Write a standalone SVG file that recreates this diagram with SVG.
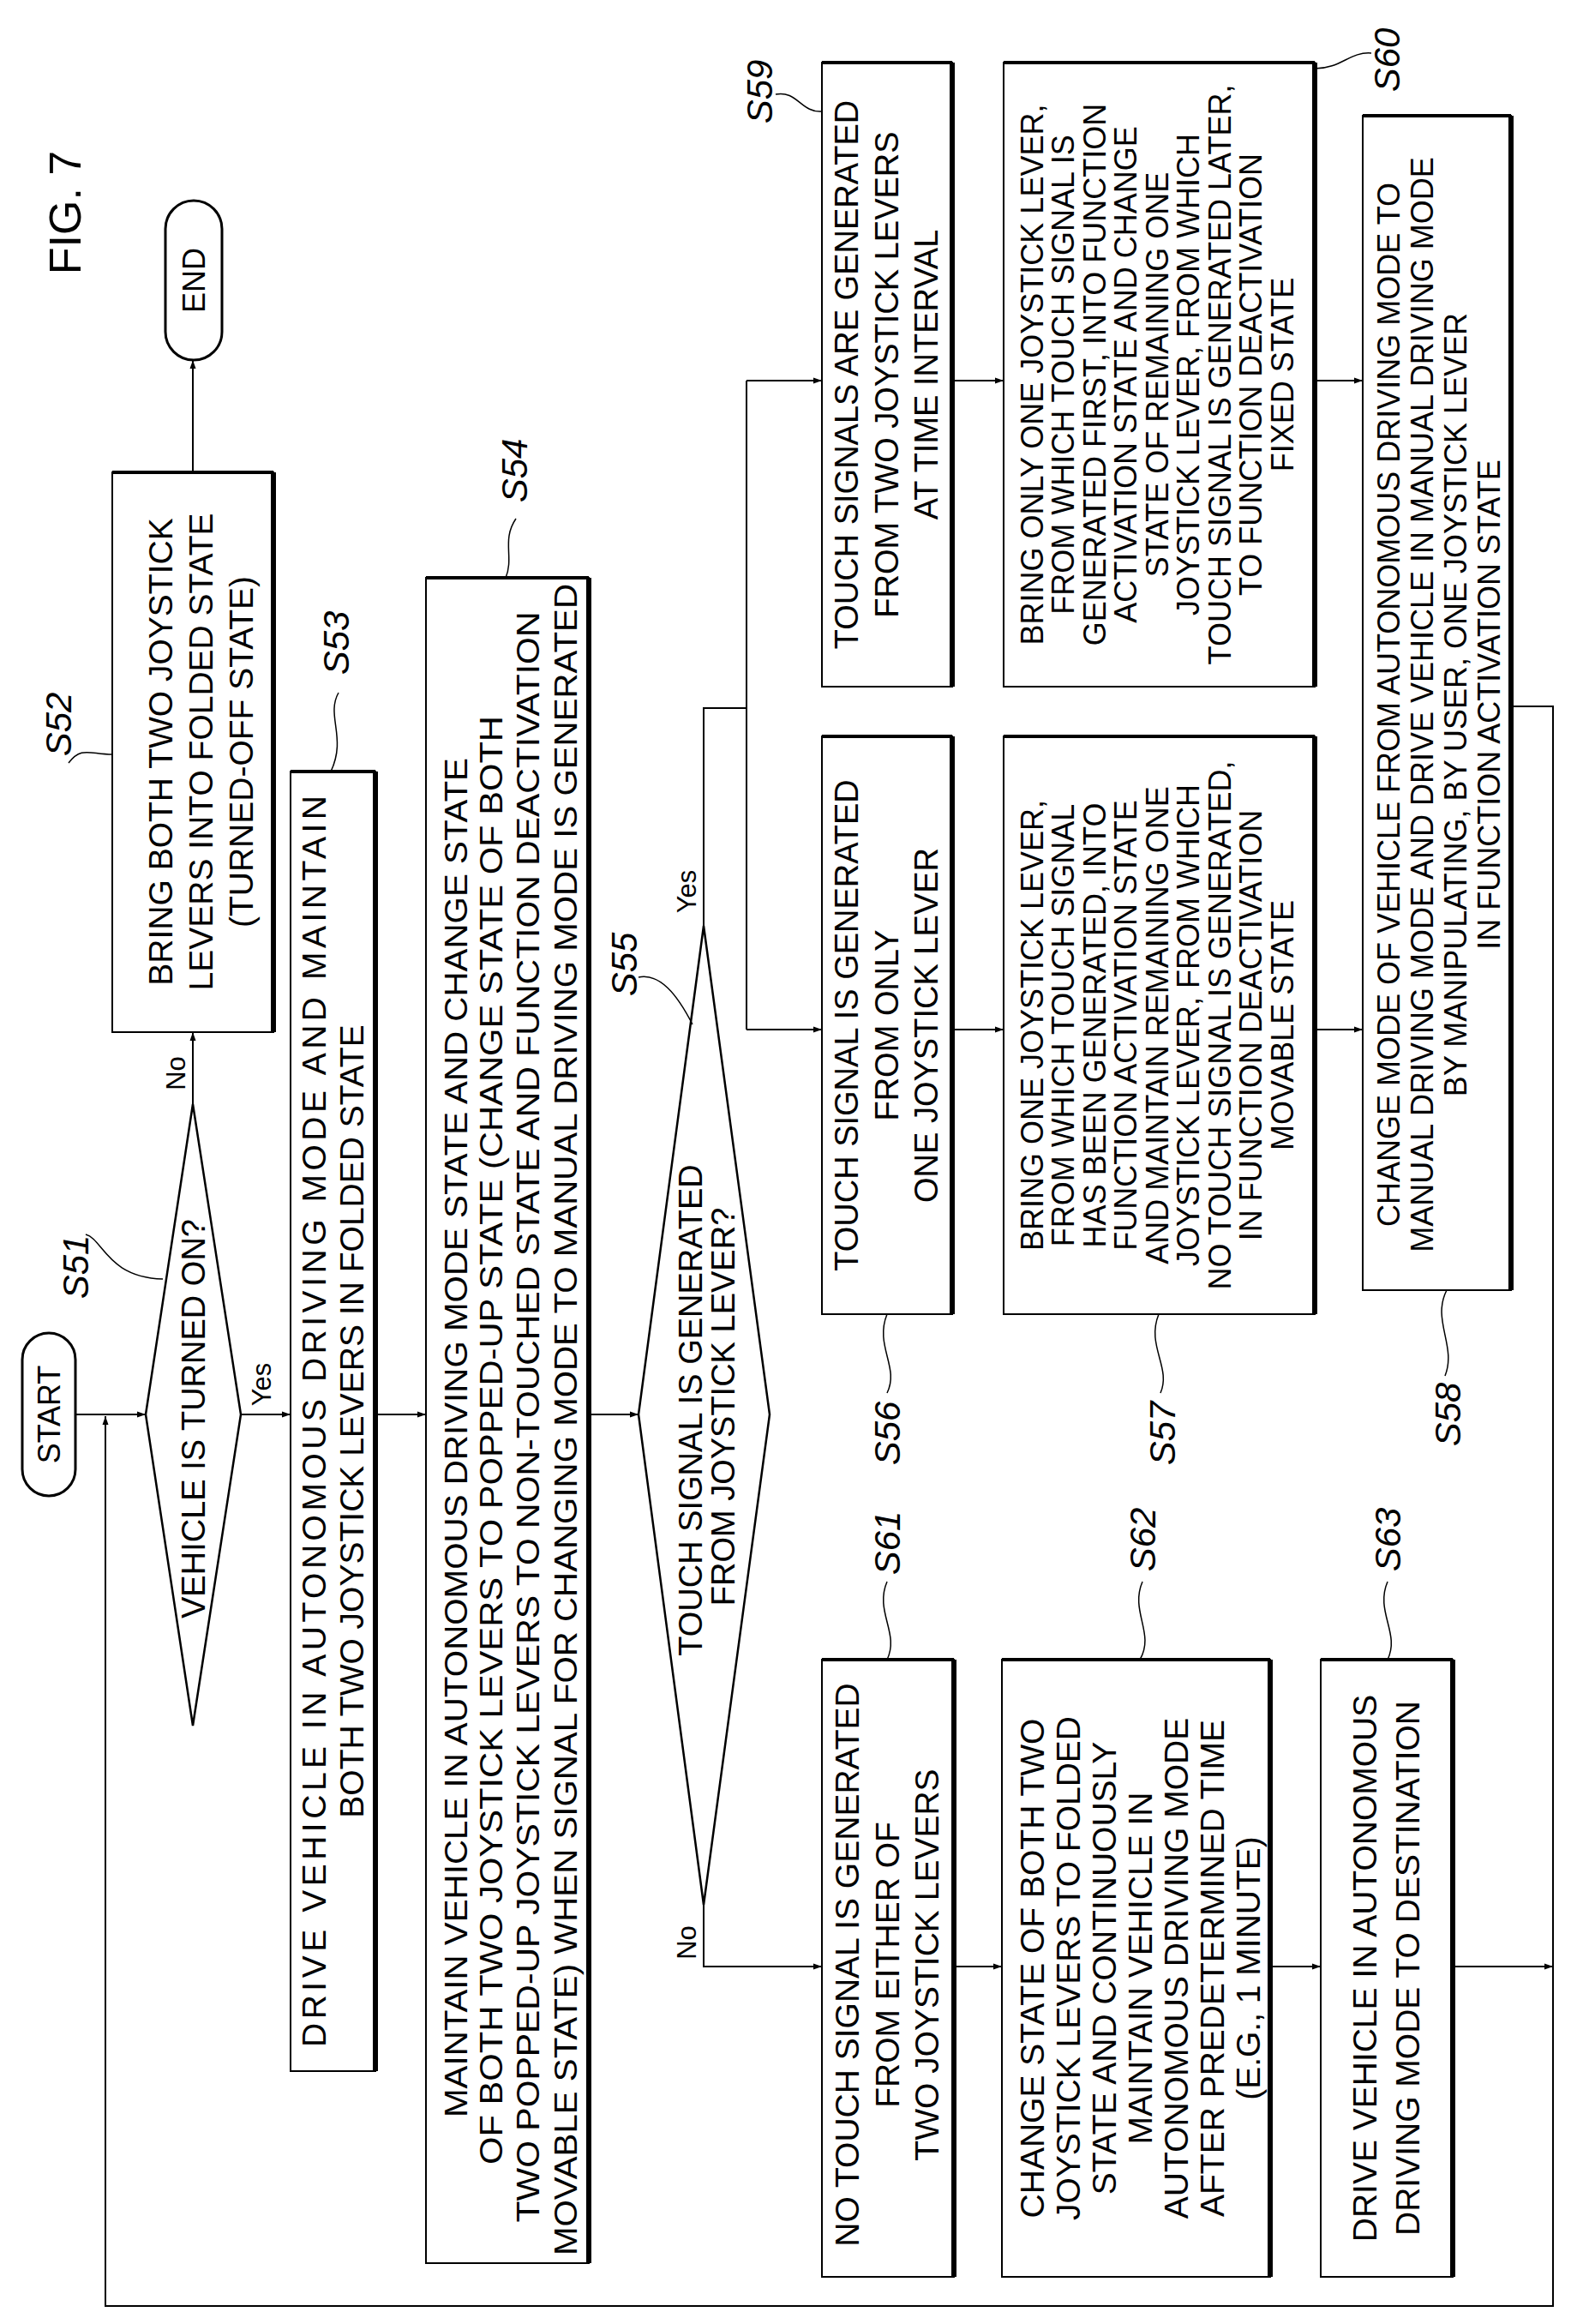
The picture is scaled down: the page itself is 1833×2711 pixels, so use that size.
<svg xmlns="http://www.w3.org/2000/svg" width="1833" height="2711" viewBox="0 0 1833 2711">
<style>
text{font-family:"Liberation Sans",Arial,sans-serif;font-size:36px;fill:#000;text-anchor:middle;dominant-baseline:central}
.lbl{font-style:italic;font-size:42px}
.f41{font-size:39px}
.f42{font-size:39px}
.f40{font-size:38px}
.f58{font-size:36px}
.box{fill:#fff;stroke:#000;stroke-width:2}
.edge{fill:none;stroke:#000;stroke-width:6}
.top{fill:none;stroke:#000;stroke-width:4}
.ln{fill:none;stroke:#000;stroke-width:2}
.ld{fill:none;stroke:#000;stroke-width:1.5}
</style>
<defs>
<marker id="ah" viewBox="0 0 10 10" refX="10" refY="5" markerWidth="10" markerHeight="10" markerUnits="userSpaceOnUse" orient="auto">
<path d="M0,1.5 L10,5 L0,8.5 Z" fill="#000"/>
</marker>
</defs>
<rect width="1833" height="2711" fill="#fff"/>
<text transform="translate(76,248) rotate(-90)" style="font-size:52px">FIG. 7</text>

<g id="connectors">
<path class="ln" d="M89 1650 H170" marker-end="url(#ah)"/>
<path class="ln" d="M1763 824 H1812 V2690 H123 V1652" marker-end="url(#ah)"/>
<path class="ln" d="M225 1288 V1204" marker-end="url(#ah)"/>
<path class="ln" d="M225 551 V420" marker-end="url(#ah)"/>
<path class="ln" d="M281 1650 H339" marker-end="url(#ah)"/>
<path class="ln" d="M438 1650 H497" marker-end="url(#ah)"/>
<path class="ln" d="M687 1650 H745" marker-end="url(#ah)"/>
<path class="ln" d="M821 1080 V826 H871"/>
<path class="ln" d="M871 444 V1201"/>
<path class="ln" d="M871 444 H959" marker-end="url(#ah)"/>
<path class="ln" d="M871 1201 H959" marker-end="url(#ah)"/>
<path class="ln" d="M1111 444 H1171" marker-end="url(#ah)"/>
<path class="ln" d="M1534 444 H1590" marker-end="url(#ah)"/>
<path class="ln" d="M1111 1201 H1171" marker-end="url(#ah)"/>
<path class="ln" d="M1534 1201 H1590" marker-end="url(#ah)"/>
<path class="ln" d="M821 2222 V2294 H959" marker-end="url(#ah)"/>
<path class="ln" d="M1113 2294 H1169" marker-end="url(#ah)"/>
<path class="ln" d="M1482 2294 H1541" marker-end="url(#ah)"/>
<path class="ln" d="M1695 2294 H1812" marker-end="url(#ah)"/>
<text transform="translate(205,1252) rotate(-90)" style="font-size:31px">No</text>
<text transform="translate(305,1615) rotate(-90)" style="font-size:31px">Yes</text>
<text transform="translate(801,1040) rotate(-90)" style="font-size:31px">Yes</text>
<text transform="translate(801,2266) rotate(-90)" style="font-size:31px">No</text>
</g>

<g id="start">
<rect x="26" y="1555" width="62" height="190" rx="31" class="box" style="stroke-width:3"/>
<text transform="translate(57,1650) rotate(-90)">START</text>
</g>
<g id="end">
<rect x="193" y="234" width="66" height="186" rx="33" class="box" style="stroke-width:3"/>
<text transform="translate(226,327) rotate(-90)">END</text>
</g>

<g id="S51">
<polygon points="225,1288 281,1650 225,2013 170,1650" class="box" style="stroke-width:2.5"/>
<text class="f40" transform="translate(226,1655) rotate(-90)">VEHICLE IS TURNED ON?</text>
<text class="lbl" transform="translate(88,1478) rotate(-90)">S51</text>
<path class="ld" d="M100 1440 C120 1445,125 1490,190 1492"/>
</g>

<g id="S52">
<rect x="131" y="551" width="188" height="653" class="box"/>
<path class="top" d="M131 551 H319"/><path class="edge" d="M319 551 V1204"/>
<text class="f41" transform="translate(187,877) rotate(-90)">BRING BOTH TWO JOYSTICK</text>
<text class="f41" transform="translate(234,877) rotate(-90)">LEVERS INTO FOLDED STATE</text>
<text class="f41" transform="translate(281,877) rotate(-90)">(TURNED-OFF STATE)</text>
<text class="lbl" transform="translate(68,845) rotate(-90)">S52</text>
<path class="ld" d="M80 890 C95 870,105 880,131 880"/>
</g>

<g id="S53">
<rect x="339" y="900" width="99" height="1516" class="box"/>
<path class="top" d="M339 900 H438"/><path class="edge" d="M438 900 V2416"/>
<text class="f41" transform="translate(366,1658) rotate(-90)" textLength="1460">DRIVE VEHICLE IN AUTONOMOUS DRIVING MODE AND MAINTAIN</text>
<text class="f41" transform="translate(410,1658) rotate(-90)">BOTH TWO JOYSTICK LEVERS IN FOLDED STATE</text>
<text class="lbl" transform="translate(392,750) rotate(-90)">S53</text>
<path class="ld" d="M395 808 C380 835,405 860,386 900"/>
</g>

<g id="S54">
<rect x="497" y="674" width="190" height="1966" class="box"/>
<path class="top" d="M497 674 H687"/><path class="edge" d="M687 674 V2640"/>
<text transform="translate(532,1677) rotate(-90)" textLength="1586" lengthAdjust="spacingAndGlyphs">MAINTAIN VEHICLE IN AUTONOMOUS DRIVING MODE STATE AND CHANGE STATE</text>
<text transform="translate(573,1680) rotate(-90)" textLength="1690" lengthAdjust="spacingAndGlyphs">OF BOTH TWO JOYSTICK LEVERS TO POPPED-UP STATE (CHANGE STATE OF BOTH</text>
<text transform="translate(616,1653) rotate(-90)" textLength="1879" lengthAdjust="spacingAndGlyphs">TWO POPPED-UP JOYSTICK LEVERS TO NON-TOUCHED STATE AND FUNCTION DEACTIVATION</text>
<text transform="translate(660,1656) rotate(-90)" textLength="1950" lengthAdjust="spacingAndGlyphs">MOVABLE STATE) WHEN SIGNAL FOR CHANGING MODE TO MANUAL DRIVING MODE IS GENERATED</text>
<text class="lbl" transform="translate(600,549) rotate(-90)">S54</text>
<path class="ld" d="M602 605 C585 630,600 650,590 674"/>
</g>

<g id="S55">
<polygon points="821,1080 898,1650 821,2222 745,1650" class="box" style="stroke-width:2.5"/>
<text class="f40" transform="translate(806,1645) rotate(-90)">TOUCH SIGNAL IS GENERATED</text>
<text class="f40" transform="translate(844,1641) rotate(-90)">FROM JOYSTICK LEVER?</text>
<text class="lbl" transform="translate(728,1125) rotate(-90)">S55</text>
<path class="ld" d="M745 1140 C770 1135,790 1160,808 1195"/>
</g>

<g id="S56">
<rect x="959" y="859" width="152" height="674" class="box"/>
<path class="top" d="M959 859 H1111"/><path class="edge" d="M1111 859 V1533"/>
<text class="f40" transform="translate(988,1196) rotate(-90)">TOUCH SIGNAL IS GENERATED</text>
<text class="f40" transform="translate(1035,1196) rotate(-90)">FROM ONLY</text>
<text class="f40" transform="translate(1081,1196) rotate(-90)">ONE JOYSTICK LEVER</text>
<text class="lbl" transform="translate(1035,1672) rotate(-90)">S56</text>
<path class="ld" d="M1035 1533 C1020 1570,1050 1595,1035 1625"/>
</g>

<g id="S57">
<rect x="1171" y="859" width="363" height="674" class="box"/>
<path class="top" d="M1171 859 H1534"/><path class="edge" d="M1534 859 V1533"/>
<text transform="translate(1204,1196) rotate(-90)">BRING ONE JOYSTICK LEVER,</text>
<text transform="translate(1240,1196) rotate(-90)">FROM WHICH TOUCH SIGNAL</text>
<text transform="translate(1277,1196) rotate(-90)">HAS BEEN GENERATED, INTO</text>
<text transform="translate(1313,1196) rotate(-90)">FUNCTION ACTIVATION STATE</text>
<text transform="translate(1350,1196) rotate(-90)">AND MAINTAIN REMAINING ONE</text>
<text transform="translate(1386,1196) rotate(-90)">JOYSTICK LEVER, FROM WHICH</text>
<text transform="translate(1423,1196) rotate(-90)">NO TOUCH SIGNAL IS GENERATED,</text>
<text transform="translate(1459,1196) rotate(-90)">IN FUNCTION DEACTIVATION</text>
<text transform="translate(1496,1196) rotate(-90)">MOVABLE STATE</text>
<text class="lbl" transform="translate(1356,1672) rotate(-90)">S57</text>
<path class="ld" d="M1352 1533 C1337 1570,1367 1595,1354 1625"/>
</g>

<g id="S58">
<rect x="1590" y="135" width="173" height="1370" class="box"/>
<path class="top" d="M1590 135 H1763"/><path class="edge" d="M1763 135 V1505"/>
<text class="f58" transform="translate(1620,822) rotate(-90)">CHANGE MODE OF VEHICLE FROM AUTONOMOUS DRIVING MODE TO</text>
<text class="f58" transform="translate(1659,822) rotate(-90)">MANUAL DRIVING MODE AND DRIVE VEHICLE IN MANUAL DRIVING MODE</text>
<text class="f58" transform="translate(1698,822) rotate(-90)">BY MANIPULATING, BY USER, ONE JOYSTICK LEVER</text>
<text class="f58" transform="translate(1737,822) rotate(-90)">IN FUNCTION ACTIVATION STATE</text>
<text class="lbl" transform="translate(1689,1650) rotate(-90)">S58</text>
<path class="ld" d="M1688 1505 C1670 1540,1700 1570,1686 1605"/>
</g>

<g id="S59">
<rect x="959" y="73" width="152" height="728" class="box"/>
<path class="top" d="M959 73 H1111"/><path class="edge" d="M1111 73 V801"/>
<text class="f40" transform="translate(988,437) rotate(-90)">TOUCH SIGNALS ARE GENERATED</text>
<text class="f40" transform="translate(1035,437) rotate(-90)">FROM TWO JOYSTICK LEVERS</text>
<text class="f40" transform="translate(1081,437) rotate(-90)">AT TIME INTERVAL</text>
<text class="lbl" transform="translate(886,107) rotate(-90)">S59</text>
<path class="ld" d="M905 110 C930 105,935 132,959 130"/>
</g>

<g id="S60">
<rect x="1171" y="73" width="363" height="728" class="box"/>
<path class="top" d="M1171 73 H1534"/><path class="edge" d="M1534 73 V801"/>
<text transform="translate(1204,437) rotate(-90)">BRING ONLY ONE JOYSTICK LEVER,</text>
<text transform="translate(1240,437) rotate(-90)">FROM WHICH TOUCH SIGNAL IS</text>
<text transform="translate(1277,437) rotate(-90)">GENERATED FIRST, INTO FUNCTION</text>
<text transform="translate(1313,437) rotate(-90)">ACTIVATION STATE AND CHANGE</text>
<text transform="translate(1350,437) rotate(-90)">STATE OF REMAINING ONE</text>
<text transform="translate(1386,437) rotate(-90)">JOYSTICK LEVER, FROM WHICH</text>
<text transform="translate(1423,437) rotate(-90)">TOUCH SIGNAL IS GENERATED LATER,</text>
<text transform="translate(1459,437) rotate(-90)">TO FUNCTION DEACTIVATION</text>
<text transform="translate(1496,437) rotate(-90)">FIXED STATE</text>
<text class="lbl" transform="translate(1618,70) rotate(-90)">S60</text>
<path class="ld" d="M1600 62 C1575 60,1565 80,1534 80"/>
</g>

<g id="S61">
<rect x="959" y="1936" width="154" height="720" class="box"/>
<path class="top" d="M959 1936 H1113"/><path class="edge" d="M1113 1936 V2656"/>
<text class="f42" transform="translate(988,2292) rotate(-90)">NO TOUCH SIGNAL IS GENERATED</text>
<text class="f42" transform="translate(1035,2292) rotate(-90)">FROM EITHER OF</text>
<text class="f42" transform="translate(1081,2292) rotate(-90)">TWO JOYSTICK LEVERS</text>
<text class="lbl" transform="translate(1035,1800) rotate(-90)">S61</text>
<path class="ld" d="M1035 1845 C1020 1880,1050 1905,1035 1936"/>
</g>

<g id="S62">
<rect x="1169" y="1936" width="313" height="720" class="box"/>
<path class="top" d="M1169 1936 H1482"/><path class="edge" d="M1482 1936 V2656"/>
<text class="f42" transform="translate(1204,2296) rotate(-90)">CHANGE STATE OF BOTH TWO</text>
<text class="f42" transform="translate(1246,2296) rotate(-90)">JOYSTICK LEVERS TO FOLDED</text>
<text class="f42" transform="translate(1288,2296) rotate(-90)">STATE AND CONTINUOUSLY</text>
<text class="f42" transform="translate(1330,2296) rotate(-90)">MAINTAIN VEHICLE IN</text>
<text class="f42" transform="translate(1372,2296) rotate(-90)">AUTONOMOUS DRIVING MODE</text>
<text class="f42" transform="translate(1414,2296) rotate(-90)">AFTER PREDETERMINED TIME</text>
<text class="f42" transform="translate(1456,2296) rotate(-90)">(E.G., 1 MINUTE)</text>
<text class="lbl" transform="translate(1333,1796) rotate(-90)">S62</text>
<path class="ld" d="M1333 1845 C1318 1880,1348 1905,1330 1936"/>
</g>

<g id="S63">
<rect x="1541" y="1936" width="154" height="720" class="box"/>
<path class="top" d="M1541 1936 H1695"/><path class="edge" d="M1695 1936 V2656"/>
<text class="f42" transform="translate(1592,2296) rotate(-90)">DRIVE VEHICLE IN AUTONOMOUS</text>
<text class="f42" transform="translate(1642,2296) rotate(-90)">DRIVING MODE TO DESTINATION</text>
<text class="lbl" transform="translate(1619,1796) rotate(-90)">S63</text>
<path class="ld" d="M1619 1845 C1604 1880,1634 1905,1619 1936"/>
</g>
</svg>
